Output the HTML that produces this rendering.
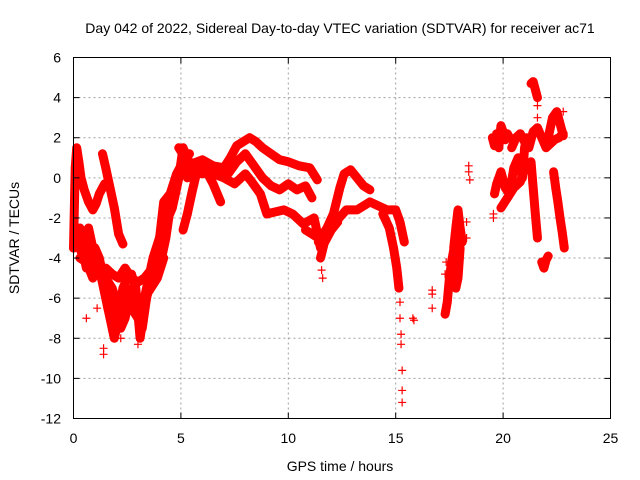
<!DOCTYPE html>
<html><head><meta charset="utf-8"><style>
html,body{margin:0;padding:0;background:#fff}
svg{display:block}
text{font-family:"Liberation Sans",sans-serif;font-size:14px;fill:#000}
</style></head><body>
<svg id="chart" width="640" height="480" viewBox="0 0 640 480" xmlns="http://www.w3.org/2000/svg">
<text x="340" y="33" text-anchor="middle">Day 042 of 2022, Sidereal Day-to-day VTEC variation (SDTVAR) for receiver ac71</text>
<text x="340" y="471" text-anchor="middle">GPS time / hours</text>
<text transform="translate(19,238) rotate(-90)" text-anchor="middle">SDTVAR / TECUs</text>
<g id="grid"></g>
<g id="marks"></g>
<rect x="73.5" y="57.5" width="537" height="361" fill="none" stroke="#000" stroke-width="1"/>
<g id="ticks"></g>
</svg>
<script>
const xTicks=[0,5,10,15,20,25];
const yTicks=[6,4,2,0,-2,-4,-6,-8,-10,-12];
const t1h=[0,0.08,0.15,0.25,0.35,0.5,0.7,0.9,1.05,1.2,1.35,1.45];
const t1v=[-3.5,0.5,1.5,0.8,0,-0.6,-1.2,-1.6,-1.3,-0.8,-0.5,-0.3];
const t2h=[1.35,1.5,1.7,1.9,2.1,2.3];
const t2v=[1.2,0.5,-0.5,-1.5,-2.8,-3.3];
const t3h=[0,0.2,0.4,0.6,0.8,1.0,1.2,1.4,1.6,1.8,2.0,2.2,2.4,2.6,2.8,3.0,3.2,3.4,3.6,3.8,4.0,4.2,4.4,4.6,4.8,5.0,5.2,5.4];
const t3v=[-3.5,-3,-3.5,-4.5,-3.5,-3.5,-4,-5,-5.5,-6,-7,-7.5,-7,-6,-5.5,-6,-7.5,-6,-5,-4.5,-3.5,-2.5,-2,-1.5,-0.5,0.5,0.8,0.5];
const t4h=[0.3,0.5,0.7,0.9,1.1,1.3,1.5,1.7,1.9,2.1,2.3,2.5,2.7,2.9,3.1,3.3,3.5,3.7,3.9,4.1,4.3,4.5,4.7,4.9,5.1,5.3,5.5];
const t4v=[-2.5,-3,-2.5,-3.5,-4.5,-5,-6,-7,-8,-7,-5.5,-5,-4.8,-5.5,-8,-6.5,-5.5,-5,-4.5,-4,-3,-1.5,-1,0,1.5,1,0.5];
const t5h=[1.5,1.8,2.1,2.4,2.7,3.0,3.3,3.6,3.9,4.2,4.5,4.8,5.1,5.4];
const t5v=[-4.5,-4.8,-5,-4.5,-5,-5.2,-5,-4.6,-4,-1.2,-0.8,0.2,0.8,1.2];
const t6h=[5.1,5.3,5.5,5.75,6.0,6.2,6.5,6.85];
const t6v=[-2.6,-1.8,-0.8,0.35,0.2,0.3,-0.3,-1.2];
const t7h=[4.9,5.2,5.5,6.0,6.5,7.0,7.3,7.6,7.9,8.2,8.5,8.8,9.2,9.6,10.0,10.5,11.0,11.35];
const t7v=[1.5,1.0,0.7,0.9,0.6,0.5,1.0,1.6,1.8,2.0,1.8,1.5,1.2,0.9,0.8,0.6,0.5,-0.1];
const t8h=[5.0,5.5,6.0,6.5,7.0,7.5,8.0,8.3,8.7,9.0,9.4,9.8,10.2,10.7,11.2,11.5];
const t8v=[0.3,0,0.3,0.2,0,-0.3,0.2,-0.2,-0.8,-1.8,-1.7,-1.6,-1.8,-2.3,-2.0,-3.5];
const t9h=[7.2,7.6,8.0,8.4,8.8,9.2,9.6,10.0,10.4,10.8,11.1];
const t9v=[0.2,0.8,1.2,0.6,0.0,-0.4,-0.6,-0.3,-0.6,-0.4,-1.0];
const t10h=[11.4,11.8,12.1,12.4,12.6,12.9,13.2,13.5,13.8];
const t10v=[-3.2,-2.5,-1.8,-0.5,0.2,0.4,0.0,-0.4,-0.6];
const t11h=[11.5,11.8,12.2,12.7,13.2,13.8,14.2,14.6,15.0,15.2,15.4];
const t11v=[-4,-2.7,-2.2,-1.6,-1.6,-1.2,-1.4,-1.6,-1.6,-2.2,-3.2];
const t12h=[14.4,14.7,14.9,15.05,15.15];
const t12v=[-1.8,-2.5,-3.5,-4.5,-5.5];
const t13h=[17.3,17.4,17.5,17.6,17.7,17.8,17.9,18.0];
const t13v=[-6.8,-6.2,-5.0,-4.2,-3.6,-5.5,-5,-3.5];
const t14h=[17.7,17.8,17.9,18.0,18.1];
const t14v=[-3.5,-2.5,-1.6,-2.5,-3.2];
const t15h=[19.5,19.6,19.7,19.8,19.9,20.0,20.1,20.2,20.3];
const t15v=[2.0,1.6,2.2,1.5,2.6,2.3,1.9,2.2,2.0];
const t16h=[19.6,19.7,19.9,20.1,20.3,20.5,20.7,20.9,21.0,21.1];
const t16v=[-0.8,-0.3,0.3,-0.5,-0.8,0.5,1.0,0.0,1.5,2.0];
const t17h=[20.4,20.6,20.8,21.0,21.2,21.4,21.6,21.8,22.0,22.2,22.4,22.6,22.8];
const t17v=[1.5,2.0,2.2,1.8,1.5,2.3,2.5,2.0,1.5,1.7,1.9,2.0,2.2];
const t18h=[21.3,21.4,21.5,21.6];
const t18v=[4.7,4.8,4.4,4.0];
const t19h=[21.8,21.9,22.0,22.1];
const t19v=[-4.2,-4.5,-4.1,-3.9];
const t20h=[22.35,22.45,22.55,22.65,22.75,22.85];
const t20v=[0.3,-0.5,-1.2,-2,-2.7,-3.5];
const t21h=[21.3,21.4,21.5,21.6];
const t21v=[0.8,-0.5,-1.8,-3.0];
const t22h=[22.1,22.3,22.5,22.7,22.8];
const t22v=[2.0,3.0,3.3,2.5,2.1];
const t23h=[19.9,20.2,20.5,20.8,21.0];
const t23v=[-1.5,-1.0,-0.5,-0.2,0.5];
const t24h=[0.3,0.6,0.9,1.2,1.5,1.8,2.1,2.4,2.7,3.0,3.3,3.6,3.9,4.2];
const t24v=[-4,-4.2,-5,-4.3,-5,-5.5,-6.5,-5.8,-6.5,-7,-6,-5.5,-5,-4];
const t25h=[0.1,0.4,0.7,1.0,1.3,1.6,1.9,2.2,2.5,2.8,3.1,3.4,3.7,4.0,4.3];
const t25v=[-3,-3.8,-3.2,-4,-4.5,-6.5,-7.5,-6,-5.5,-6.5,-7,-5.5,-4,-3,-2];
const t26h=[10.8,11.1,11.4,11.7,12.0,12.3];
const t26v=[-2.6,-2.8,-3.0,-3.2,-2.6,-2.2];
const t27h=[5.3,5.7,6.1,6.5,6.9,7.3];
const t27v=[0.0,0.6,0.6,0.4,0.2,0.4];
const scatterH=[15.2,15.2,15.25,15.25,15.3,15.3,15.3,15.8,15.85,16.7,16.7,16.7,18.4,18.4,18.45,18.3,18.3,17.35,17.3,21.6,21.6,22.8,19.55,19.55,1.4,1.4,0.6,1.1,2.2,3.0,11.55,11.6];
const scatterV=[-6.2,-7,-7.8,-8.3,-9.6,-10.6,-11.2,-7,-7.1,-5.6,-5.8,-6.5,0.6,0.3,-0.1,-2.2,-3.0,-4.2,-4.8,3.6,3.0,3.3,-1.8,-2.0,-8.8,-8.5,-7,-6.5,-8,-8.3,-4.6,-5.0];
const tracksH=[t1h,t2h,t3h,t4h,t5h,t6h,t7h,t8h,t9h,t10h,t11h,t12h,t13h,t14h,t15h,t16h,t17h,t18h,t19h,t20h,t21h,t22h,t23h,t24h,t25h,t26h,t27h];
const tracksV=[t1v,t2v,t3v,t4v,t5v,t6v,t7v,t8v,t9v,t10v,t11v,t12v,t13v,t14v,t15v,t16v,t17v,t18v,t19v,t20v,t21v,t22v,t23v,t24v,t25v,t26v,t27v];

const X0=73.5,X1=610.5,Y0=57.5,Y1=418.5;
function xs(h){return X0+(h-0)/(25-0)*(X1-X0);}
function ys(v){return Y0+(6-v)/(6-(-12))*(Y1-Y0);}
const NS='http://www.w3.org/2000/svg';
const grid=document.getElementById('grid'),ticks=document.getElementById('ticks'),marks=document.getElementById('marks');
function mk(tag,attrs,parent){const e=document.createElementNS(NS,tag);for(const k in attrs)e.setAttribute(k,attrs[k]);parent.appendChild(e);return e;}
xTicks.forEach(t=>{
  const x=xs(t);
  if(t>0&&t<25){const g=mk('line',{x1:x,x2:x,y1:Y0,y2:Y1,stroke:'#a0a0a0','stroke-dasharray':'2,3'},grid);
  
  }
  const a=mk('line',{x1:x,x2:x,y1:Y1,y2:Y1-6,stroke:'#000'},ticks);
  
  
  const b=mk('line',{x1:x,x2:x,y1:Y0,y2:Y0+6,stroke:'#000'},ticks);
  
  
  const l=mk('text',{x:x,y:443,'text-anchor':'middle'},ticks);l.textContent=t;
  
  
});
yTicks.forEach(t=>{
  const y=ys(t);
  if(t<6&&t>-12){const g=mk('line',{x1:X0,x2:X1,y1:y,y2:y,stroke:'#a0a0a0','stroke-dasharray':'2,3'},grid);
  
  }
  const a=mk('line',{x1:X0,x2:X0+6,y1:y,y2:y,stroke:'#000'},ticks);
  
  
  const b=mk('line',{x1:X1,x2:X1-6,y1:y,y2:y,stroke:'#000'},ticks);
  
  
  const l=mk('text',{x:61,y:y+5,'text-anchor':'end'},ticks);l.textContent=t;
  
  
});
function cross(h,v){
  const x=xs(h),y=ys(v);
  const p=mk('path',{d:`M${x-4},${y}H${x+4}M${x},${y-4}V${y+4}`,stroke:'#f00','stroke-width':1.2,fill:'none'},marks);
  
  
}
tracksH.forEach((hs,i)=>{
  const vs=tracksV[i];
  const pts=hs.map((h,j)=>xs(h)+','+ys(vs[j])).join(' ');
  const pl=mk('polyline',{points:pts,fill:'none',stroke:'#f00','stroke-width':9,'stroke-linejoin':'round','stroke-linecap':'round'},marks);
  
  
  hs.forEach((h,j)=>cross(h,vs[j]));
});
scatterH.forEach((h,i)=>cross(h,scatterV[i]));
</script>
</body></html>
